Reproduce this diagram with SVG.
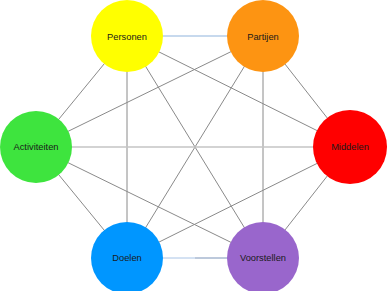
<svg xmlns="http://www.w3.org/2000/svg" width="388" height="291" viewBox="0 0 388 291">
<style>
.e{stroke:#8a8a8a;stroke-width:1;fill:none}
.n text{font-family:"Liberation Sans",Arial,sans-serif;font-size:9.3px;fill:#1a1a1a;text-anchor:middle;dominant-baseline:central}
</style>
<rect width="388" height="291" fill="#fff"/>
<g id="connectors">
<line class="e" x1="127" y1="36" x2="263" y2="36" style="stroke:#8fb3dc"/>
<line class="e" x1="127" y1="36" x2="36" y2="147"/>
<line class="e" x1="127" y1="36" x2="127" y2="258"/>
<line class="e" x1="127" y1="36" x2="263" y2="258"/>
<line class="e" x1="127" y1="36" x2="350" y2="147"/>
<line class="e" x1="263" y1="36" x2="36" y2="147"/>
<line class="e" x1="263" y1="36" x2="127" y2="258"/>
<line class="e" x1="263" y1="36" x2="263" y2="258"/>
<line class="e" x1="263" y1="36" x2="350" y2="147"/>
<line class="e" x1="36" y1="147" x2="350" y2="147" style="stroke:#c4c4c4;stroke-width:1.6"/>
<line class="e" x1="36" y1="147" x2="127" y2="258"/>
<line class="e" x1="36" y1="147" x2="263" y2="258"/>
<line class="e" x1="350" y1="147" x2="127" y2="258"/>
<line class="e" x1="350" y1="147" x2="263" y2="258"/>
<line class="e" x1="127" y1="258" x2="195" y2="258" style="stroke:#a9c4e6"/>
<line class="e" x1="195" y1="258" x2="263" y2="258" style="stroke:#7a93b8"/>
</g>
<g id="personen" class="n"><circle cx="127" cy="36" r="36" fill="#ffff00"/><text x="127" y="37">Personen</text></g>
<g id="partijen" class="n"><circle cx="263" cy="36" r="36" fill="#fd9412"/><text x="263" y="37">Partijen</text></g>
<g id="activiteiten" class="n"><circle cx="36" cy="147" r="36" fill="#3ee43e"/><text x="36" y="147">Activiteiten</text></g>
<g id="middelen" class="n"><circle cx="350" cy="147" r="37" fill="#ff0000"/><text x="350" y="147">Middelen</text></g>
<g id="doelen" class="n"><circle cx="127" cy="258" r="36" fill="#0096ff"/><text x="127" y="258">Doelen</text></g>
<g id="voorstellen" class="n"><circle cx="263" cy="258" r="36" fill="#9966cc"/><text x="263" y="258">Voorstellen</text></g>
</svg>
